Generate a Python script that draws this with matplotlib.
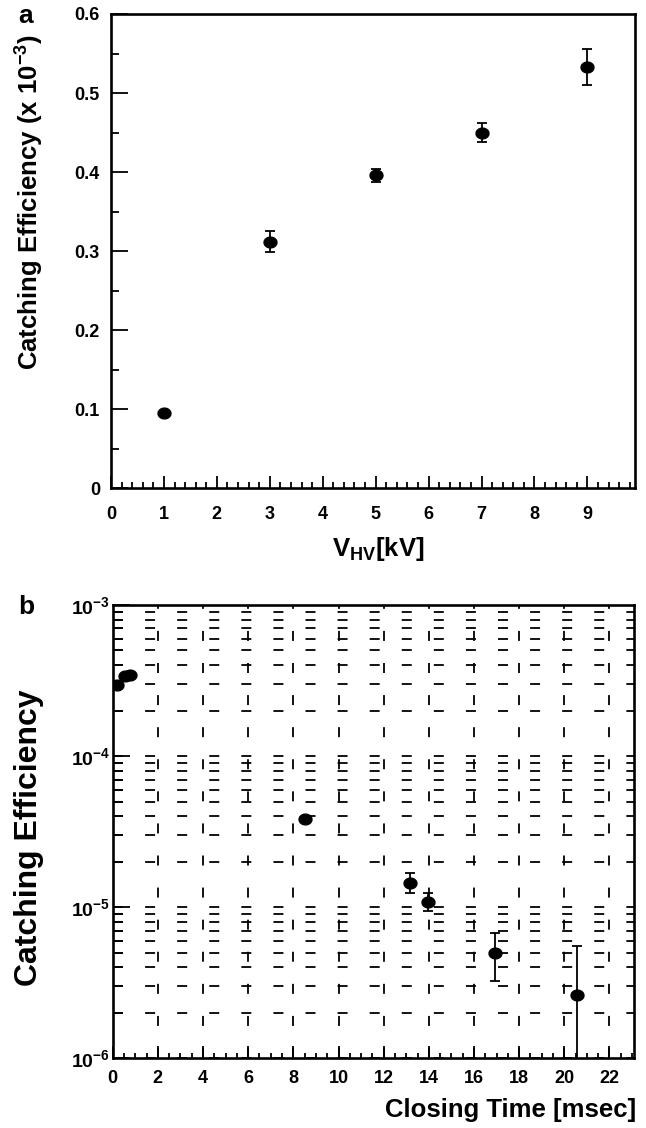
import numpy as np
import matplotlib
matplotlib.use("Agg")
import matplotlib.pyplot as plt
from matplotlib.path import Path
from matplotlib.ticker import MultipleLocator, LogLocator, FuncFormatter, NullFormatter

plt.rcParams['font.family'] = ['Liberation Sans', 'DejaVu Sans']
plt.rcParams['font.weight'] = 'bold'
plt.rcParams['mathtext.fontset'] = 'custom'
plt.rcParams['mathtext.rm'] = 'Liberation Sans:bold'
plt.rcParams['mathtext.it'] = 'Liberation Sans:bold'
plt.rcParams['mathtext.bf'] = 'Liberation Sans:bold'
plt.rcParams['mathtext.sf'] = 'Liberation Sans:bold'
plt.rcParams['mathtext.default'] = 'rm'
plt.rcParams['lines.scale_dashes'] = False

# ---- Panel a data ----
hv_kv = [1, 3, 5, 7, 9]
eff_a = [0.095, 0.312, 0.396, 0.450, 0.533]
err_a = [0.002, 0.0135, 0.0085, 0.0123, 0.0224]

# ---- Panel b data ----
closing_ms = [0.2, 0.55, 0.75, 8.5, 13.15, 13.95, 16.95, 20.55]
eff_b = [2.94e-4, 3.40e-4, 3.45e-4, 3.85e-5, 1.455e-5, 1.09e-5, 4.99e-6, 2.64e-6]
err_b_lo = [0, 0, 0, 0, 0.215e-5, 0.15e-5, 1.75e-6, 2.3e-6]
err_b_hi = [0, 0, 0, 0, 0.225e-5, 0.16e-5, 1.72e-6, 2.94e-6]

W, H = 646, 1128
fig = plt.figure(figsize=(W / 100, H / 100), dpi=100)

def rect(l, t, r, b):
    return [l / W, 1 - b / H, (r - l) / W, (b - t) / H]

def fx(x):
    return x / W

def fy(y):
    return 1 - y / H

# slightly wide elliptical dot, as in the reference
th = np.linspace(0, 2 * np.pi, 60)
ellipse = Path(np.column_stack([1.2 * np.cos(th), np.sin(th)]), closed=True)

spine_lw = 1.9
mk = dict(fmt='none', ecolor='black', elinewidth=1.3, capsize=3.8, capthick=1.3)
dot = dict(marker=ellipse, color='black', markersize=9.3, linestyle='none', zorder=3)

TICK_FS = 13

# ===== Panel a =====
ax1 = fig.add_axes(rect(111, 14, 635, 488.3))
ax1.errorbar(hv_kv, eff_a, yerr=err_a, **mk)
ax1.plot(hv_kv, eff_a, **dot)
ax1.set_xlim(0, 9.9)
ax1.set_ylim(0, 0.6)
ax1.xaxis.set_major_locator(MultipleLocator(1))
ax1.xaxis.set_minor_locator(MultipleLocator(0.2))
ax1.yaxis.set_major_locator(MultipleLocator(0.1))
ax1.yaxis.set_minor_locator(MultipleLocator(0.05))
ax1.yaxis.set_major_formatter(FuncFormatter(lambda v, p: '0' if abs(v) < 1e-9 else f'{v:.1f}'))
ax1.tick_params(which='both', direction='in', top=False, right=False,
                labelsize=TICK_FS, width=1.3)
ax1.tick_params(axis='x', which='major', length=9, pad=12.5)
ax1.tick_params(axis='x', which='minor', length=4.5)
ax1.tick_params(axis='y', which='major', length=12, pad=8)
ax1.tick_params(axis='y', which='minor', length=6)
for s in ax1.spines.values():
    s.set_linewidth(spine_lw)

fig.text(fx(18), fy(16), 'a', fontsize=19, fontweight='bold', ha='left', va='center')
fig.text(fx(30), fy(202), r'Catching Efficiency (x 10$^{-3}$)', fontsize=18.5,
         fontweight='bold', rotation=90, ha='center', va='center')
fig.text(fx(378), fy(549), r'V$_{\mathrm{HV}}$[kV]', fontsize=18.5,
         fontweight='bold', ha='center', va='center')

# ===== Panel b =====
ax2 = fig.add_axes(rect(112.7, 605, 634.3, 1058.4))
ax2.set_yscale('log')
ax2.set_xlim(0, 23.1)
ax2.set_ylim(1e-6, 1e-3)
ax2.xaxis.set_major_locator(MultipleLocator(2))
ax2.xaxis.set_minor_locator(MultipleLocator(0.5))
ax2.yaxis.set_major_locator(LogLocator(base=10, numticks=10))
ax2.yaxis.set_minor_locator(LogLocator(base=10, subs=np.arange(2, 10), numticks=20))
ax2.yaxis.set_minor_formatter(NullFormatter())
ax2.yaxis.set_major_formatter(FuncFormatter(
    lambda v, p: r'$\mathbf{10^{%d}}$' % int(round(np.log10(v)))))

grid_style = dict(color='black', linewidth=1.3, linestyle=(0, (7.2, 15.9)))
ax2.grid(True, which='both', axis='y', **grid_style)
ax2.grid(True, which='major', axis='x', **grid_style)
ax2.set_axisbelow(True)

ax2.errorbar(closing_ms, eff_b, yerr=[err_b_lo, err_b_hi], **mk)
ax2.plot(closing_ms, eff_b, **dot)

ax2.tick_params(which='both', direction='in', top=False, right=False,
                labelsize=TICK_FS, width=1.3)
ax2.tick_params(axis='x', which='major', length=8.5, pad=8)
ax2.tick_params(axis='x', which='minor', length=3.8)
ax2.tick_params(axis='y', which='major', length=12, pad=2, labelsize=14)
ax2.tick_params(axis='y', which='minor', length=7)
for s in ax2.spines.values():
    s.set_linewidth(spine_lw)

fig.text(fx(18), fy(607), 'b', fontsize=19, fontweight='bold', ha='left', va='center')
fig.text(fx(29), fy(838), 'Catching Efficiency', fontsize=23,
         fontweight='bold', rotation=90, ha='center', va='center')
fig.text(fx(636), fy(1110), 'Closing Time [msec]', fontsize=18.5,
         fontweight='bold', ha='right', va='center')

fig.savefig('out.png', dpi=100)
